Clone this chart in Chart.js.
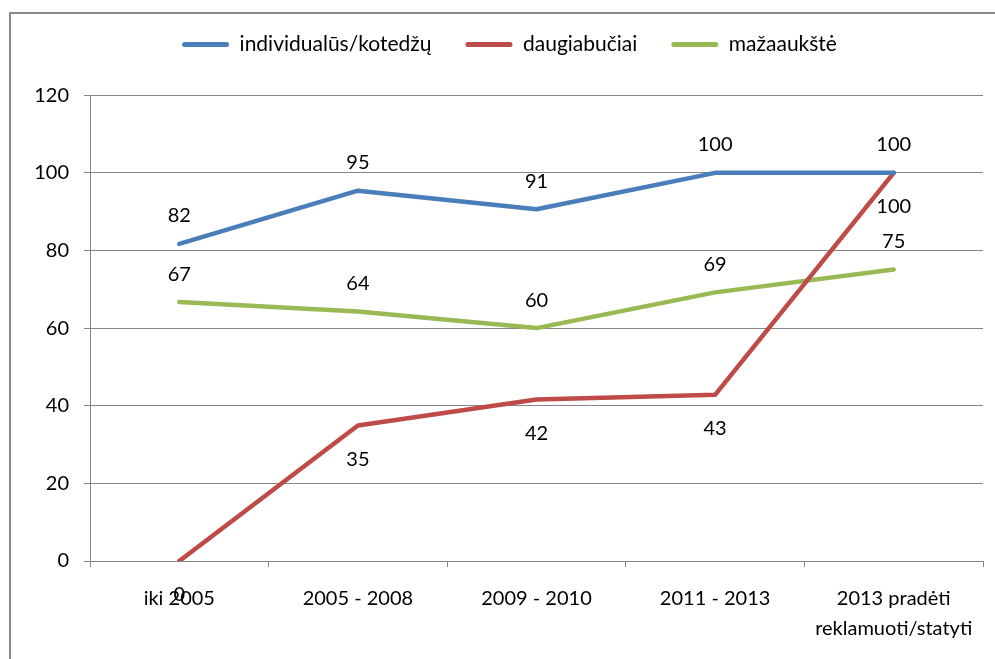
<!DOCTYPE html>
<html>
<head>
<meta charset="utf-8">
<script src="https://cdn.jsdelivr.net/npm/chart.js@4.4.1/dist/chart.umd.min.js"></script>
<style>
html,body{margin:0;padding:0;background:#fff;}
canvas{display:block;}
</style>
</head>
<body>
<canvas id="c" width="995" height="659"></canvas>
<script>
const categories = ['iki 2005', '2005 - 2008', '2009 - 2010', '2011 - 2013', ['2013 pradėti', 'reklamuoti/statyti']];
const seriesNames = ['individualūs/kotedžų', 'daugiabučiai', 'mažaaukštė'];
const individualus = [81.7, 95.4, 90.6, 100, 100];
const daugiabuciai = [0, 34.9, 41.6, 42.8, 100];
const mazaaukste = [66.7, 64.3, 60.0, 69.2, 75.1];
const yTicks = [0, 20, 40, 60, 80, 100, 120];

const FONT = 'Lato, "Open Sans", sans-serif';
const GRID = '#868686';

const borderPlugin = {
  id: 'outerBorder',
  beforeDraw(chart) {
    const ctx = chart.ctx;
    ctx.save();
    ctx.fillStyle = '#fff';
    ctx.fillRect(0, 0, chart.width, chart.height);
    ctx.strokeStyle = '#8a8a8a';
    ctx.lineWidth = 2;
    ctx.beginPath();
    ctx.moveTo(10, chart.height);
    ctx.lineTo(10, 13);
    ctx.lineTo(chart.width, 13);
    ctx.stroke();
    ctx.restore();
  }
};

const labelPlugin = {
  id: 'valueLabels',
  afterDatasetsDraw(chart) {
    const ctx = chart.ctx;
    ctx.save();
    ctx.font = '20px ' + FONT;
    ctx.fillStyle = '#000';
    ctx.textAlign = 'center';
    ctx.textBaseline = 'middle';
    chart.data.datasets.forEach((ds, i) => {
      const meta = chart.getDatasetMeta(i);
      meta.data.forEach((pt, j) => {
        ctx.fillText(String(Math.round(ds.data[j])), pt.x, pt.y + ds.labelOffset);
      });
    });
    ctx.restore();
  }
};

new Chart(document.getElementById('c'), {
  type: 'line',
  data: {
    labels: categories,
    datasets: [
      { label: seriesNames[0], data: individualus, borderColor: '#4A7EBB', backgroundColor: '#4A7EBB', labelOffset: -28 },
      { label: seriesNames[1], data: daugiabuciai, borderColor: '#BE4B48', backgroundColor: '#BE4B48', labelOffset: 34 },
      { label: seriesNames[2], data: mazaaukste, borderColor: '#98B954', backgroundColor: '#98B954', labelOffset: -28 }
    ]
  },
  options: {
    responsive: false,
    animation: false,
    devicePixelRatio: 1,
    layout: { padding: { top: 0, right: 12, bottom: 0, left: 36 } },
    elements: {
      line: { borderWidth: 4.5, tension: 0, borderCapStyle: 'round', borderJoinStyle: 'round', fill: false },
      point: { radius: 0, hoverRadius: 0 }
    },
    plugins: {
      tooltip: { enabled: false },
      title: { display: true, text: '', weight: 500, font: { size: 1 }, padding: { top: 0, bottom: 29 } },
      legend: {
        position: 'top',
        weight: 3000,
        labels: {
          font: { family: FONT, size: 21 },
          color: '#000',
          boxWidth: 47,
          boxHeight: 5,
          padding: 34,
          generateLabels(chart) {
            return chart.data.datasets.map((ds, i) => ({
              text: ds.label,
              fillStyle: ds.borderColor,
              strokeStyle: ds.borderColor,
              lineWidth: 0,
              borderRadius: 2.5,
              datasetIndex: i,
              hidden: false
            }));
          }
        }
      }
    },
    scales: {
      x: {
        offset: true,
        grid: { display: true, drawOnChartArea: false, drawTicks: true, tickLength: 6, color: GRID, offset: true },
        border: { display: true, color: GRID, width: 1 },
        ticks: { font: { family: FONT, size: 20, lineHeight: 1.5 }, color: '#000', padding: 17, maxRotation: 0, autoSkip: false },
        afterFit(scale) { scale.height = 98; }
      },
      y: {
        min: 0,
        max: 120,
        afterBuildTicks(scale) { scale.ticks = yTicks.map(v => ({ value: v })); },
        grid: { color: GRID, lineWidth: 1, tickLength: 6, drawTicks: true },
        border: { display: true, color: GRID, width: 1 },
        ticks: { font: { family: FONT, size: 20 }, color: '#000', padding: 15 },
        afterFit(scale) { scale.width = 54; }
      }
    }
  },
  plugins: [borderPlugin, labelPlugin]
});
</script>
</body>
</html>
